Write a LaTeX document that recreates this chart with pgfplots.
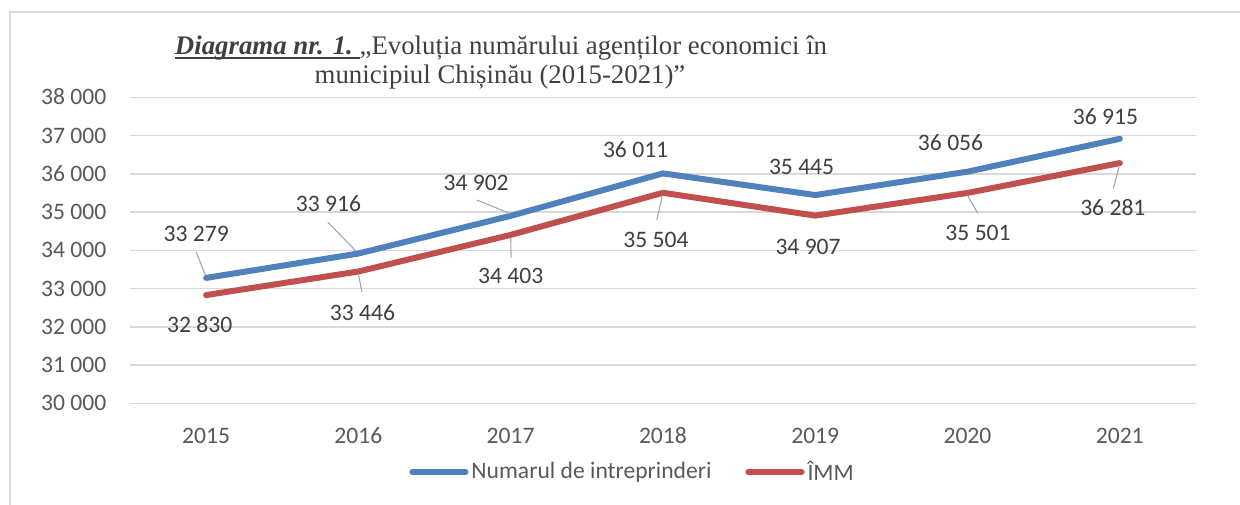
\documentclass[border=0pt]{standalone}
\usepackage{pgfplots}
\pgfplotsset{compat=1.18}
\usepackage{fontspec}
\setmainfont{Carlito}
\newfontfamily\titlefont{Liberation Serif}
\definecolor{sblue}{HTML}{4F81BD}
\definecolor{sred}{HTML}{C0504D}
\definecolor{gridc}{HTML}{D9D9D9}
\definecolor{tickc}{HTML}{595959}
\definecolor{labc}{HTML}{404040}
\definecolor{leadc}{HTML}{A6A6A6}
\newcommand\thickul[1]{\setbox0\hbox{#1}\rlap{\rule[-2.2pt]{\wd0}{1.4pt}}\box0}
\begin{document}
\begin{tikzpicture}
\useasboundingbox (0pt,0pt) rectangle (620pt,252pt);
\draw[gridc, line width=0.8pt] (5pt,-2pt) -- (5pt,246pt) -- (625pt,246pt);
\node[anchor=base, text=labc, inner sep=0pt, font=\titlefont\fontsize{13.4}{15}\selectfont] at (250.5pt,224.5pt)
  {\thickul{\textbf{\textit{Diagrama nr. 1.}}\ }„Evoluția numărului agenților economici în};
\node[anchor=base, text=labc, inner sep=0pt, font=\titlefont\fontsize{13.4}{15}\selectfont] at (250pt,210pt)
  {municipiul Chișinău (2015-2021)”};
\begin{axis}[
  at={(65pt,50.35pt)}, anchor=south west,
  scale only axis, width=533pt, height=153pt,
  xmin=2014.5, xmax=2021.5, ymin=30000, ymax=38000,
  scaled y ticks=false,
  xtick={2015,...,2021},
  xticklabels={2015,2016,2017,2018,2019,2020,2021},
  ytick={30000,31000,...,38000},
  yticklabels={30 000,31 000,32 000,33 000,34 000,35 000,36 000,37 000,38 000},
  axis line style={draw=none},
  major tick length=0pt,
  ymajorgrids, grid style={gridc, line width=0.7pt},
  tick label style={font=\fontsize{11.8}{14}\selectfont, text=tickc, inner sep=0pt, text height=7.46pt, text depth=0pt},
  yticklabel style={anchor=east, xshift=-11.7pt},
  xticklabel style={anchor=center, yshift=-16.5pt},
  legend columns=2,
  legend style={draw=none, fill=none, at={(axis description cs:0.472,-0.2245)}, anchor=center,
    font=\fontsize{11.8}{14}\selectfont, text=tickc,
    /tikz/every even column/.append style={column sep=15.5pt},
    nodes={inner sep=1.5pt}},
  legend image code/.code={\draw[#1, line width=3pt, line cap=round] (0pt,0pt) -- (26.5pt,0pt);},
  clip=false,
]
\addplot[sblue, line width=3pt, line join=round, line cap=round] coordinates {
 (2015,33279) (2016,33916) (2017,34902) (2018,36011) (2019,35445) (2020,36056) (2021,36915)};
\addlegendentry{Numarul de intreprinderi}
\addplot[sred, line width=3pt, line join=round, line cap=round] coordinates {
 (2015,32830) (2016,33446) (2017,34403) (2018,35504) (2019,34907) (2020,35501) (2021,36281)};
\addlegendentry{ÎMM}
% leader lines
\begin{scope}[leadc, line width=0.55pt]
\draw ([xshift=-5pt,yshift=13.1pt]axis cs:2015,33279) -- ([xshift=-0.5pt,yshift=1.5pt]axis cs:2015,33279);
\draw ([xshift=-15.3pt,yshift=15.6pt]axis cs:2016,33916) -- ([xshift=-1.2pt,yshift=1.2pt]axis cs:2016,33916);
\draw ([xshift=-17pt,yshift=7.9pt]axis cs:2017,34902) -- ([xshift=-0.5pt,yshift=1.2pt]axis cs:2017,34902);
\draw ([xshift=0pt,yshift=-1.2pt]axis cs:2016,33446) -- ([xshift=1.7pt,yshift=-10.1pt]axis cs:2016,33446);
\draw ([xshift=0pt,yshift=-1.2pt]axis cs:2017,34403) -- ([xshift=0.2pt,yshift=-11.4pt]axis cs:2017,34403);
\draw ([xshift=-0.3pt,yshift=-1.2pt]axis cs:2018,35504) -- ([xshift=-3.1pt,yshift=-13.6pt]axis cs:2018,35504);
\draw ([xshift=-0.1pt,yshift=-1.2pt]axis cs:2020,35501) -- ([xshift=5.1pt,yshift=-10.2pt]axis cs:2020,35501);
\draw ([xshift=-0.2pt,yshift=-1.2pt]axis cs:2021,36281) -- ([xshift=-3.2pt,yshift=-12.6pt]axis cs:2021,36281);
\end{scope}
% data labels
\begin{scope}[every node/.style={text=labc, inner sep=0pt, anchor=center, text height=7.46pt, text depth=0pt, font=\fontsize{11.8}{14}\selectfont}]
\node at ([xshift=-5pt,yshift=21.7pt]axis cs:2015,33279) {33 279};
\node at ([xshift=-15pt,yshift=24.75pt]axis cs:2016,33916) {33 916};
\node at ([xshift=-17.3pt,yshift=16.4pt]axis cs:2017,34902) {34 902};
\node at ([xshift=-13.7pt,yshift=11.45pt]axis cs:2018,36011) {36 011};
\node at ([xshift=-6.85pt,yshift=14pt]axis cs:2019,35445) {35 445};
\node at ([xshift=-8.5pt,yshift=14.35pt]axis cs:2020,36056) {36 056};
\node at ([xshift=-7.15pt,yshift=11pt]axis cs:2021,36915) {36 915};
\node at ([xshift=-3.25pt,yshift=-15pt]axis cs:2015,32830) {32 830};
\node at ([xshift=2pt,yshift=-20.75pt]axis cs:2016,33446) {33 446};
\node at ([xshift=0pt,yshift=-20.8pt]axis cs:2017,34403) {34 403};
\node at ([xshift=-3.5pt,yshift=-23.85pt]axis cs:2018,35504) {35 504};
\node at ([xshift=-3.6pt,yshift=-15.5pt]axis cs:2019,34907) {34 907};
\node at ([xshift=5.25pt,yshift=-20pt]axis cs:2020,35501) {35 501};
\node at ([xshift=-3.5pt,yshift=-22.5pt]axis cs:2021,36281) {36 281};
\end{scope}
\end{axis}
\end{tikzpicture}
\end{document}
